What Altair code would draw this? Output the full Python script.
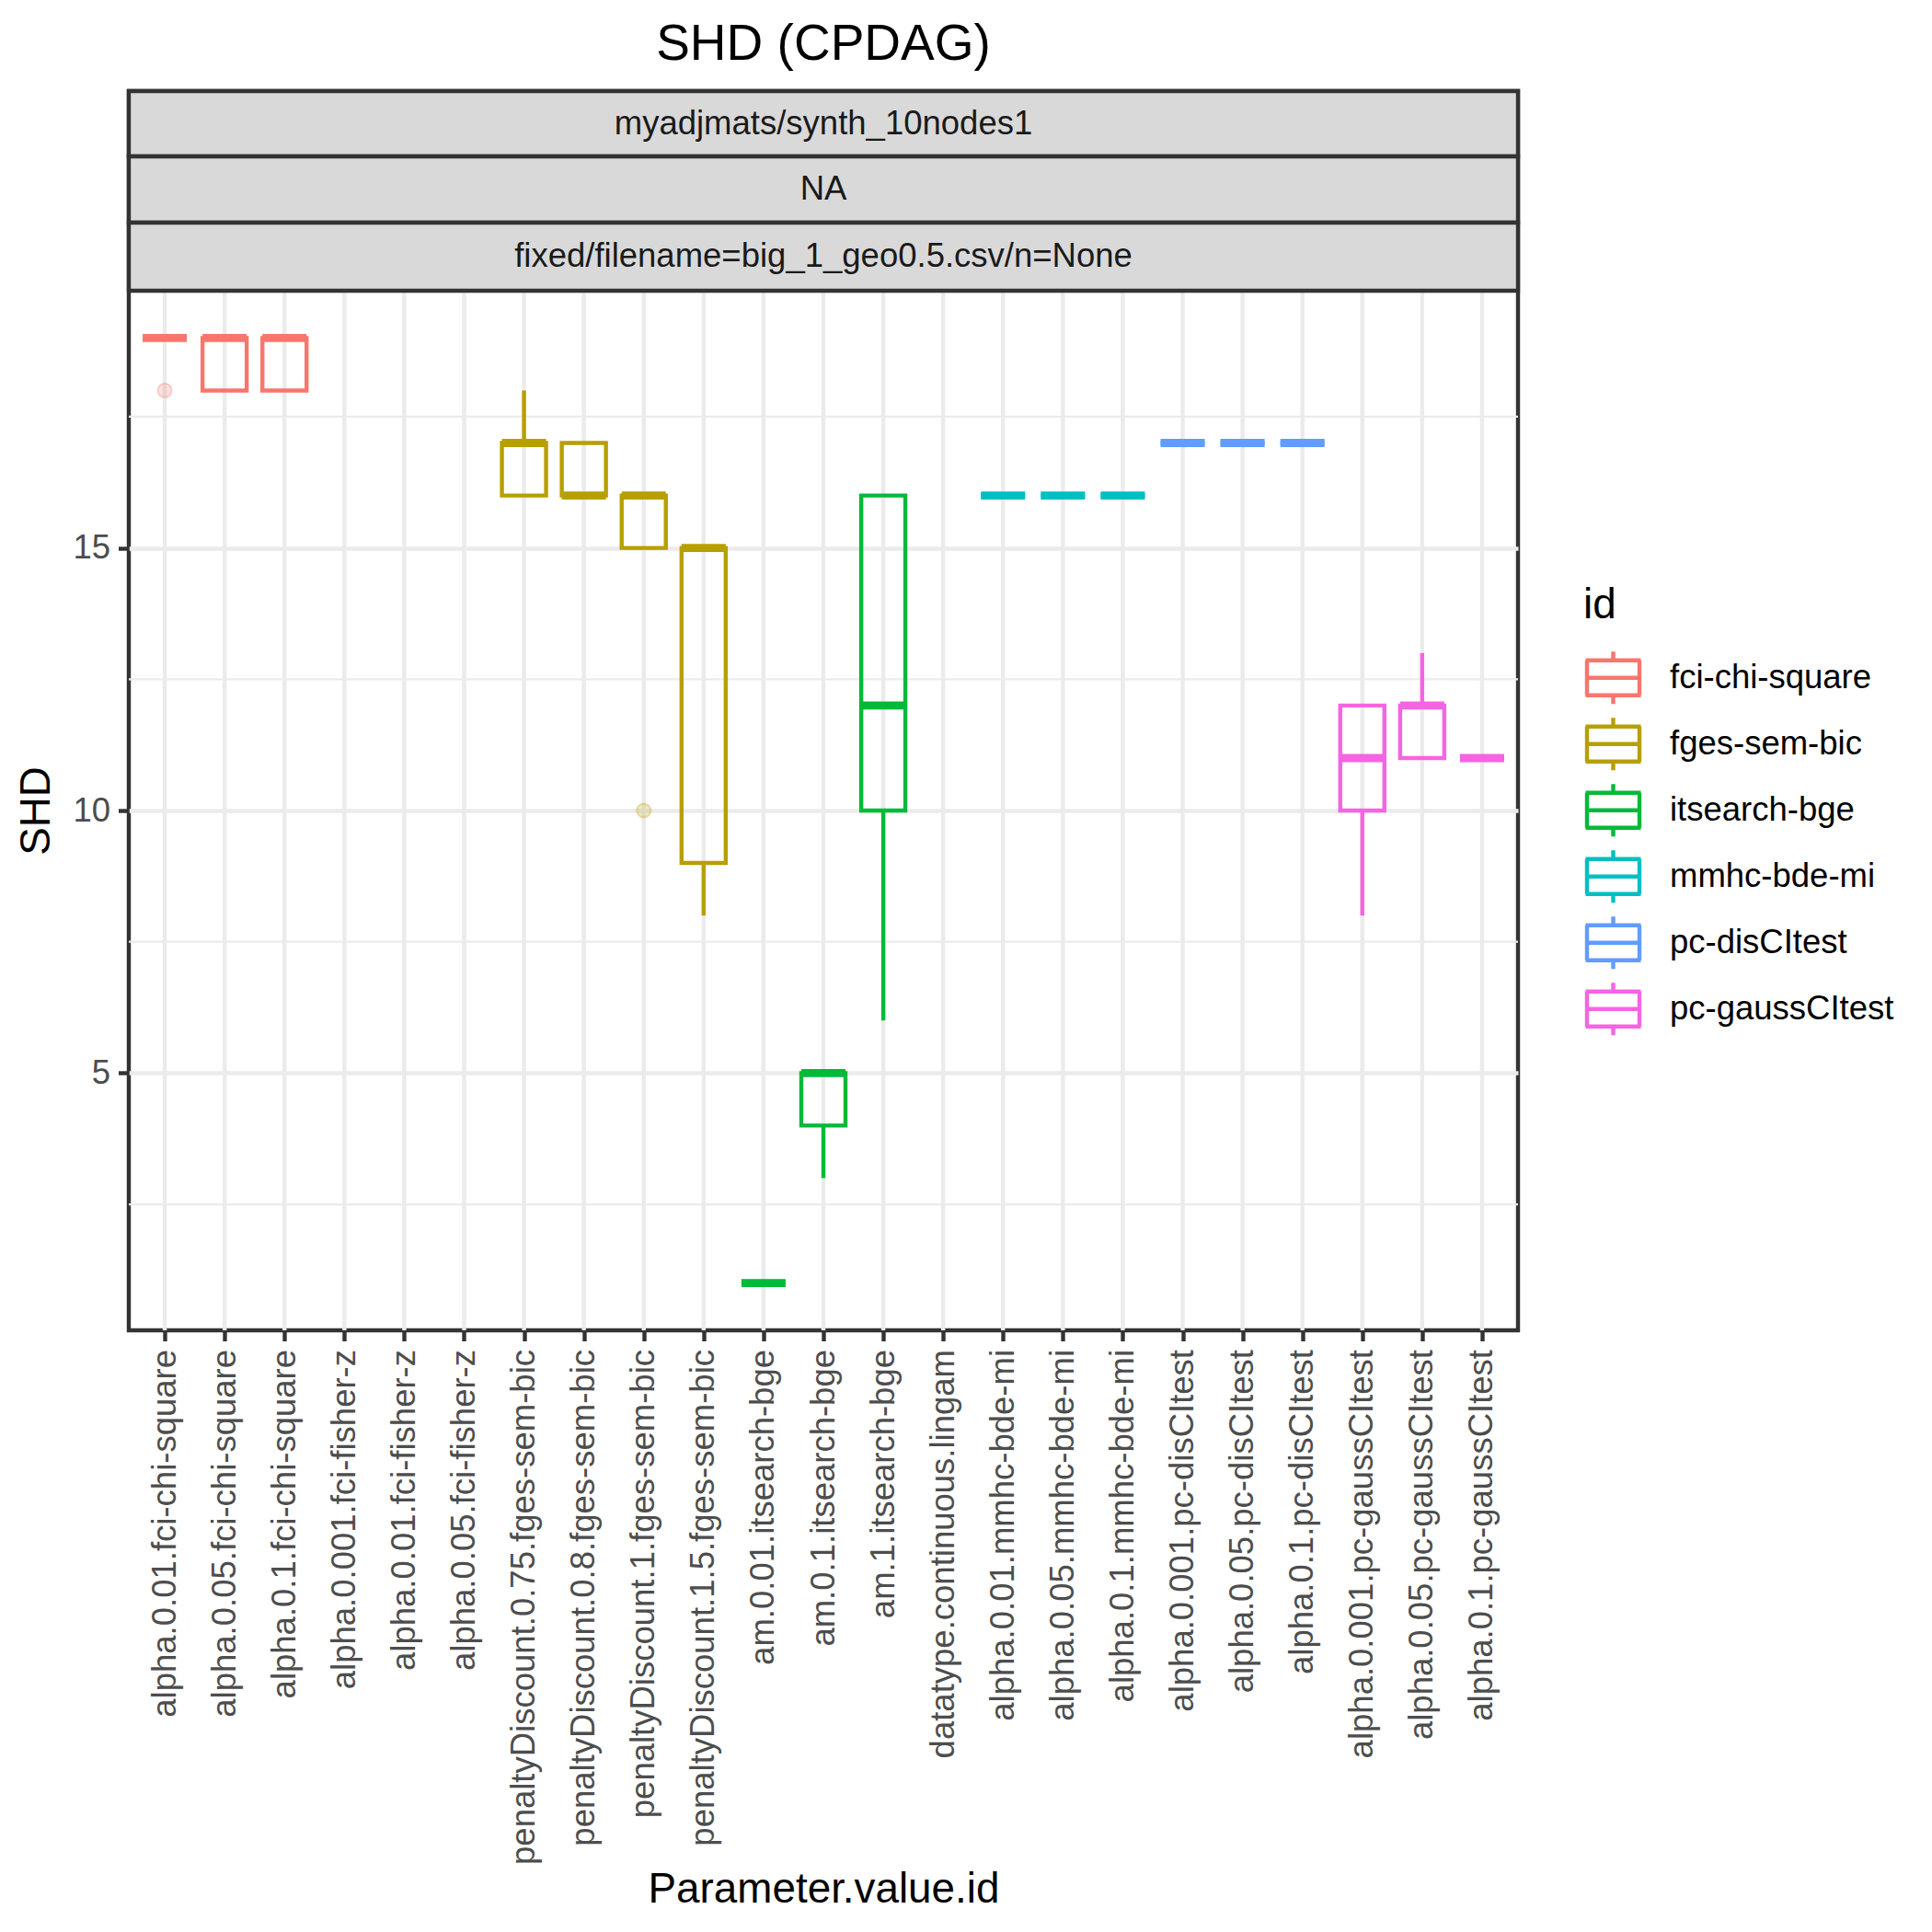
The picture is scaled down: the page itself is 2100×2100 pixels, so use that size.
import altair as alt
import pandas as pd

# ---------------- data ----------------
categories = [
    "alpha.0.01.fci-chi-square", "alpha.0.05.fci-chi-square", "alpha.0.1.fci-chi-square",
    "alpha.0.001.fci-fisher-z", "alpha.0.01.fci-fisher-z", "alpha.0.05.fci-fisher-z",
    "penaltyDiscount.0.75.fges-sem-bic", "penaltyDiscount.0.8.fges-sem-bic",
    "penaltyDiscount.1.fges-sem-bic", "penaltyDiscount.1.5.fges-sem-bic",
    "am.0.01.itsearch-bge", "am.0.1.itsearch-bge", "am.1.itsearch-bge",
    "datatype.continuous.lingam",
    "alpha.0.01.mmhc-bde-mi", "alpha.0.05.mmhc-bde-mi", "alpha.0.1.mmhc-bde-mi",
    "alpha.0.001.pc-disCItest", "alpha.0.05.pc-disCItest", "alpha.0.1.pc-disCItest",
    "alpha.0.001.pc-gaussCItest", "alpha.0.05.pc-gaussCItest", "alpha.0.1.pc-gaussCItest",
]
ids = [
    "fci-chi-square", "fci-chi-square", "fci-chi-square",
    None, None, None,
    "fges-sem-bic", "fges-sem-bic", "fges-sem-bic", "fges-sem-bic",
    "itsearch-bge", "itsearch-bge", "itsearch-bge",
    None,
    "mmhc-bde-mi", "mmhc-bde-mi", "mmhc-bde-mi",
    "pc-disCItest", "pc-disCItest", "pc-disCItest",
    "pc-gaussCItest", "pc-gaussCItest", "pc-gaussCItest",
]
q1 =           [19, 18, 18, None, None, None, 16, 16, 15, 9, 1, 4, 10, None, 16, 16, 16, 17, 17, 17, 10, 11, 11]
median =       [19, 19, 19, None, None, None, 17, 16, 16, 15, 1, 5, 12, None, 16, 16, 16, 17, 17, 17, 11, 12, 11]
q3 =           [19, 19, 19, None, None, None, 17, 17, 16, 15, 1, 5, 16, None, 16, 16, 16, 17, 17, 17, 12, 12, 11]
whisker_low =  [19, 18, 18, None, None, None, 16, 16, 15, 8, 1, 3, 6, None, 16, 16, 16, 17, 17, 17, 8, 11, 11]
whisker_high = [19, 19, 19, None, None, None, 18, 17, 16, 15, 1, 5, 16, None, 16, 16, 16, 17, 17, 17, 12, 13, 11]

outlier_cat = ["alpha.0.01.fci-chi-square", "penaltyDiscount.1.fges-sem-bic"]
outlier_id = ["fci-chi-square", "fges-sem-bic"]
outlier_val = [18, 10]

id_levels = ["fci-chi-square", "fges-sem-bic", "itsearch-bge",
             "mmhc-bde-mi", "pc-disCItest", "pc-gaussCItest"]
id_colors = ["#F8766D", "#B79F00", "#00BA38", "#00BFC4", "#619CFF", "#F564E3"]

y_domain = [0.1, 19.9]
major_breaks = [5, 10, 15]
minor_breaks = [2.5, 7.5, 12.5, 17.5]
strip_labels = ["myadjmats/synth_10nodes1", "NA", "fixed/filename=big_1_geo0.5.csv/n=None"]

# ---------------- tables ----------------
box_rows, whisk_rows = [], []
for c, i, a, m, b, lo, hi in zip(categories, ids, q1, median, q3, whisker_low, whisker_high):
    if m is None:
        continue
    box_rows.append({"cat": c, "id": i, "q1": a, "med": m, "q3": b})
    if lo < a:
        whisk_rows.append({"cat": c, "id": i, "a": lo, "b": a})
    if hi > b:
        whisk_rows.append({"cat": c, "id": i, "a": b, "b": hi})
box_df = pd.DataFrame(box_rows)
whisk_df = pd.DataFrame(whisk_rows)
out_df = pd.DataFrame({"cat": outlier_cat, "id": outlier_id, "val": outlier_val})
minor_df = pd.DataFrame({"v": minor_breaks})
vgrid_df = pd.DataFrame({"cat": categories,
                         "lo": [y_domain[0]] * len(categories),
                         "hi": [y_domain[1]] * len(categories)})

# ---------------- layout constants ----------------
FONT = "Liberation Sans"
W = 1510
H = 1347
STRIP = [0, 71, 143, 217]
LW = 4.4
BOXW = 48

x_scale = alt.Scale(type="point", domain=categories, padding=0.6)
y_scale = alt.Scale(domain=y_domain, range=[H, STRIP[3]], zero=False, nice=False)
col_scale = alt.Scale(domain=id_levels, range=id_colors)

x_axis = alt.Axis(
    title="Parameter.value.id", labelAngle=270, labelAlign="right", labelBaseline="middle",
    labelFontSize=36.5, labelColor="#4D4D4D", labelFont=FONT, labelPadding=9, labelLimit=2000,
    labelOverlap=False, tickSize=11.5, tickWidth=LW, tickColor="#333333", domain=False,
    grid=False,
    titleFont=FONT, titleFontSize=45.8, titleColor="black", titleFontWeight="normal",
    titleBaseline="alphabetic", titleY=621, titleX=W / 2, titleAlign="center",
)
y_axis = alt.Axis(
    title="SHD", values=major_breaks, format="d",
    labelFontSize=36.5, labelColor="#4D4D4D", labelFont=FONT, labelPadding=9,
    tickSize=11.5, tickWidth=LW, tickColor="#333333", domain=False,
    grid=True, gridColor="#EBEBEB", gridWidth=LW,
    titleFont=FONT, titleFontSize=45.8, titleColor="black", titleFontWeight="normal",
    titleAngle=270, titleBaseline="alphabetic", titleAlign="center",
    titleX=-87, titleY=(H + STRIP[3]) / 2,
)

X = alt.X("cat:N", scale=x_scale, axis=x_axis)

# legend glyph (box + median + whisker stubs) drawn as open strokes only
# symbol size 3600 -> half-extent 30 px
legend_path = ("M-1.0,-0.633L1.0,-0.633"
               "M0.95,-0.633L0.95,0.633"
               "M1.0,0.633L-1.0,0.633"
               "M-0.95,0.633L-0.95,-0.633"
               "M-0.95,0L0.95,0"
               "M0,-0.633L0,-0.95"
               "M0,0.633L0,0.95")

legend = alt.Legend(
    title="id", orient="none", legendX=1581, legendY=537, padding=0,
    symbolType=legend_path, symbolSize=3600, symbolStrokeWidth=LW,
    clipHeight=72,
    labelFont=FONT, labelFontSize=36.5, labelColor="black", labelOffset=29,
    labelLimit=2000,
    titleFont=FONT, titleFontSize=45.8, titleColor="black", titleFontWeight="normal",
    titlePadding=19, rowPadding=0,
)

minor = alt.Chart(minor_df).mark_rule(color="#EBEBEB", strokeWidth=2.2).encode(
    y=alt.Y("v:Q", scale=y_scale, axis=y_axis)
)

vgrid = alt.Chart(vgrid_df).mark_rule(color="#EBEBEB", strokeWidth=LW).encode(
    x=X,
    y=alt.Y("lo:Q", scale=y_scale, axis=y_axis),
    y2="hi:Q",
)

boxes = alt.Chart(box_df).mark_bar(filled=False, size=BOXW, strokeWidth=LW, opacity=1).encode(
    x=X,
    y=alt.Y("q1:Q", scale=y_scale, axis=y_axis),
    y2="q3:Q",
    color=alt.Color("id:N", scale=col_scale, legend=legend),
)

whiskers = alt.Chart(whisk_df).mark_rule(strokeWidth=LW).encode(
    x=X,
    y=alt.Y("a:Q", scale=y_scale, axis=y_axis),
    y2="b:Q",
    stroke=alt.Stroke("id:N", scale=col_scale, legend=None),
)

medians = alt.Chart(box_df).mark_tick(size=BOXW, thickness=8.9, opacity=1).encode(
    x=X,
    y=alt.Y("med:Q", scale=y_scale, axis=y_axis),
    fill=alt.Fill("id:N", scale=col_scale, legend=None),
)

outliers = alt.Chart(out_df).mark_point(
    filled=True, size=230, fillOpacity=0.22, strokeOpacity=0.3, strokeWidth=2, shape="circle"
).encode(
    x=X,
    y=alt.Y("val:Q", scale=y_scale, axis=y_axis),
    fill=alt.Fill("id:N", scale=col_scale, legend=None),
    stroke=alt.Stroke("id:N", scale=col_scale, legend=None),
)

strip_layers = []
for k, lab in enumerate(strip_labels):
    d = pd.DataFrame({"label": [lab]})
    strip_layers.append(
        alt.Chart(d).mark_rect(fill="#D9D9D9", stroke="#333333", strokeWidth=LW).encode(
            x=alt.value(0), x2=alt.value(W),
            y=alt.value(STRIP[k]), y2=alt.value(STRIP[k + 1]),
        )
    )
    strip_layers.append(
        alt.Chart(d).mark_text(font=FONT, fontSize=36.5, color="#1A1A1A",
                               baseline="middle", align="center").encode(
            text="label:N",
            x=alt.value(W / 2), y=alt.value((STRIP[k] + STRIP[k + 1]) / 2),
        )
    )

chart = alt.layer(minor, vgrid, *strip_layers, boxes, whiskers, medians, outliers).properties(
    width=W, height=H,
    autosize=alt.AutoSizeParams(type="none"),
    padding={"left": 132, "top": 91, "right": 442, "bottom": 646},
    title=alt.TitleParams("SHD (CPDAG)", font=FONT, fontSize=55, fontWeight="normal",
                          color="black", anchor="middle", frame="group",
                          baseline="alphabetic", offset=32, dy=55),
).configure_view(
    stroke="#333333", strokeWidth=LW
)

chart.save("out.html", embed_options={"renderer": "svg", "actions": False})
